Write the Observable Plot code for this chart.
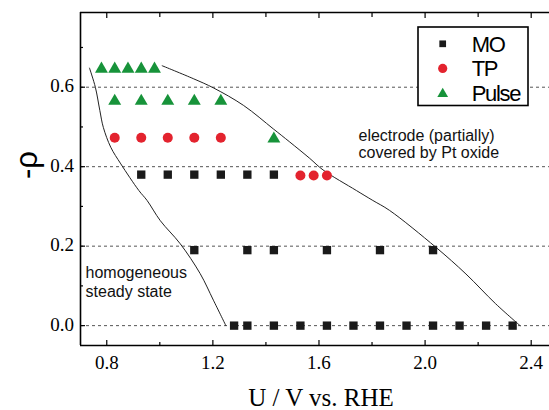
<!DOCTYPE html>
<html><head><meta charset="utf-8">
<script src="https://cdn.jsdelivr.net/npm/d3@7"></script>
<script src="https://cdn.jsdelivr.net/npm/@observablehq/plot@0.6"></script>
<style>
body{margin:0;background:#fff;}
#wrap{position:relative;width:549px;height:410px;overflow:hidden;}
#legend{position:absolute;left:417px;top:25.5px;}
</style></head><body><div id="wrap"></div>
<script>
// ---- data ----
const moX = [1.28,1.33,1.43,1.53,1.63,1.73,1.83,1.93,2.03,2.13,2.23,2.33,
             1.13,1.33,1.43,1.63,1.83,2.03,
             0.93,1.03,1.13,1.23,1.33,1.43];
const moY = [0,0,0,0,0,0,0,0,0,0,0,0,
             0.19,0.19,0.19,0.19,0.19,0.19,
             0.38,0.38,0.38,0.38,0.38,0.38];
const tpX = [0.83,0.93,1.03,1.13,1.23,1.53,1.58,1.63];
const tpY = [0.473,0.473,0.473,0.473,0.473,0.378,0.378,0.378];
const pulseX = [0.78,0.83,0.88,0.93,0.98,0.83,0.93,1.03,1.13,1.23,1.43];
const pulseY = [0.646,0.646,0.646,0.646,0.646,0.565,0.565,0.565,0.565,0.565,0.47];
const leftX = [0.735,0.757,0.774,0.787,0.815,0.853,0.921,0.952,1.002,1.077,1.152,1.202,1.249];
const leftY = [0.648,0.600,0.541,0.499,0.449,0.407,0.340,0.315,0.264,0.206,0.131,0.064,0];
const rightX = [1.009,1.128,1.203,1.316,1.428,1.490,1.565,1.615,1.741,1.803,1.866,2.041,2.154,2.266,2.358];
const rightY = [0.654,0.621,0.598,0.554,0.495,0.462,0.421,0.392,0.340,0.315,0.290,0.197,0.130,0.055,0];
const xMajor = [0.8,1.2,1.6,2.0,2.4];
const xMinor = [1.0,1.4,1.8,2.2];
const yMajor = [0,0.2,0.4,0.6];
const yMinor = [0.1,0.3,0.5,0.7];
const gridY = [0,0.2,0.4,0.6];
const xDomain = [0.701,2.469];
const yDomain = [-0.05,0.788];
const notes = [
  {x:0.720, y:0.071, text:"homogeneous\nsteady state"},
  {x:1.749, y:0.422, text:"electrode (partially)\ncovered by Pt oxide"}
];
const seriesNames = ["MO","TP","Pulse"];
const colors = {MO:"#1a1a1a", TP:"#e3232e", Pulse:"#17933a"};

const SERIF = "'Liberation Serif', 'Times New Roman', serif";
const SANS = "'Liberation Sans', Arial, sans-serif";
const zip = (xs, ys) => xs.map((x,i)=>({x, y: ys[i]}));
const mo = zip(moX, moY), tp = zip(tpX, tpY), pulse = zip(pulseX, pulseY);
const left = zip(leftX, leftY), right = zip(rightX, rightY);
const empty = () => "";
const fmt = d3.format(".1f");

const chart = Plot.plot({
  width: 549, height: 410,
  marginLeft: 80, marginRight: 0, marginTop: 12, marginBottom: 65,
  x: {domain: xDomain, label: null},
  y: {domain: yDomain, label: null},
  style: {fontFamily: SERIF, fontSize: "19px", color: "#000", background: "#fff"},
  marks: [
    Plot.ruleY(gridY, {stroke: "#555", strokeDasharray: "3,3", strokeWidth: 1}),
    Plot.line(left, {x: "x", y: "y", curve: "catmull-rom", stroke: "#222", strokeWidth: 1}),
    Plot.line(right, {x: "x", y: "y", curve: "catmull-rom", stroke: "#222", strokeWidth: 1}),
    Plot.dot(mo, {x: "x", y: "y", symbol: "square", r: 4.7, fill: colors.MO}),
    Plot.dot(tp, {x: "x", y: "y", symbol: "circle", r: 5, fill: colors.TP}),
    Plot.dot(pulse, {x: "x", y: "y", symbol: "triangle", r: 4.8, fill: colors.Pulse}),
    Plot.text(notes.slice(0,1), {x: "x", y: "y", text: "text", textAnchor: "start", lineAnchor: "bottom", lineHeight: 1.2,
      fontFamily: SANS, fontSize: 16, fill: "#111"}),
    Plot.text(notes.slice(1), {x: "x", y: "y", text: "text", textAnchor: "start", lineAnchor: "bottom", lineHeight: 1.08,
      fontFamily: SANS, fontSize: 16, fill: "#111"}),
    Plot.axisX({ticks: xMajor, tickSize: -5, tickFormat: empty, strokeWidth: 1.2}),
    Plot.axisX({ticks: xMinor, tickSize: -3, tickFormat: empty, strokeWidth: 1.2}),
    Plot.axisX({anchor: "top", ticks: xMajor, tickSize: -5, tickFormat: empty, strokeWidth: 1.2}),
    Plot.axisX({anchor: "top", ticks: xMinor, tickSize: -4, tickFormat: empty, strokeWidth: 1.2}),
    Plot.axisY({ticks: yMajor, tickSize: -5, tickFormat: empty, strokeWidth: 1.2}),
    Plot.axisY({ticks: yMinor, tickSize: -3, tickFormat: empty, strokeWidth: 1.2}),
    // tick labels
    Plot.text(xMajor, {x: d => d, frameAnchor: "bottom", dy: 23, lineAnchor: "bottom", text: fmt,
      fontFamily: SERIF, fontSize: 19, fill: "#000"}),
    Plot.text(yMajor, {y: d => d, frameAnchor: "left", dx: -6.5, textAnchor: "end", lineAnchor: "middle", dy: -1, text: fmt,
      fontFamily: SERIF, fontSize: 19, fill: "#000"}),
    Plot.ruleY([yDomain[0]], {stroke: "#000", strokeWidth: 1.6}),
    Plot.ruleY([yDomain[1]], {stroke: "#000", strokeWidth: 1.6}),
    Plot.ruleX([xDomain[0]], {stroke: "#000", strokeWidth: 1.6}),
    Plot.text(["U / V vs. RHE"], {frameAnchor: "bottom", dx: 6, dy: 60, lineAnchor: "bottom", fontSize: 25,
      fontFamily: SERIF, fill: "#000"}),
    Plot.text(["-ρ"], {frameAnchor: "left", dx: -53, rotate: -90, fontSize: 31, lineAnchor: "middle",
      fontFamily: SANS, fill: "#000"})
  ]
});
const wrap = document.getElementById("wrap");
wrap.appendChild(chart);

// legend (overlay, inside plot area)
const lg = d3.select(wrap).append("svg").attr("id","legend").attr("width",113).attr("height",82);
lg.append("rect").attr("x",1).attr("y",1).attr("width",110).attr("height",78.5)
  .attr("fill","#fff").attr("stroke","#000").attr("stroke-width",1.6);
const symFor = {MO: d3.symbolSquare, TP: d3.symbolCircle, Pulse: d3.symbolTriangle};
const symSize = {MO: 45, TP: 66, Pulse: 50};
seriesNames.forEach((name, i) => {
  const cy = 17.8 + i * 24.6;
  lg.append("path").attr("d", d3.symbol(symFor[name], symSize[name])())
    .attr("transform", `translate(25.7,${cy + (name==="Pulse"?1:0)})`).attr("fill", colors[name]);
  lg.append("text").attr("x", 54.7).attr("y", cy + 7.7).text(name)
    .attr("font-family", SANS).attr("font-size", 22)
    .attr("letter-spacing", "-1.3px").attr("fill", "#000");
});
</script>
</body></html>
